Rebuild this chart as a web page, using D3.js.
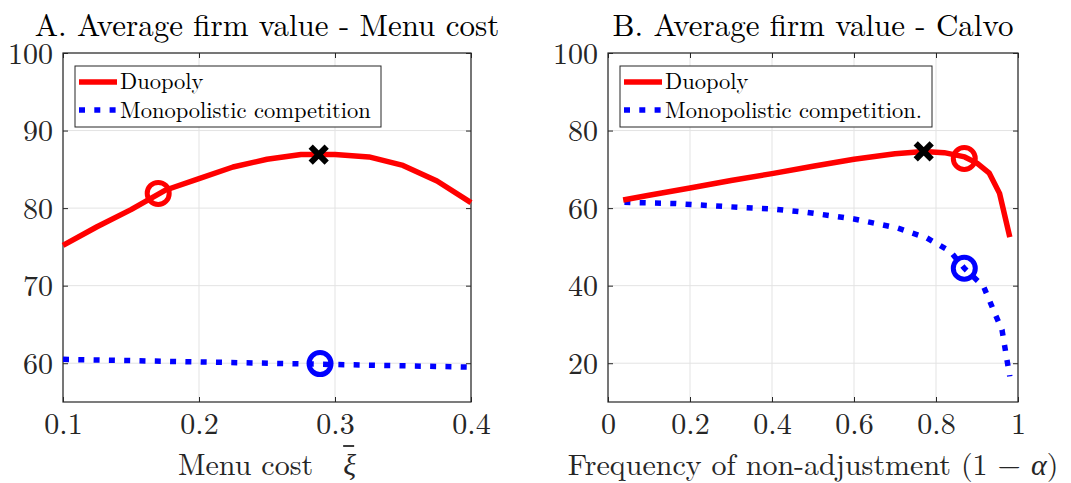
<!DOCTYPE html>
<html>
<head>
<meta charset="utf-8">
<script src="https://cdn.jsdelivr.net/npm/d3@7"></script>
<style>
  body { margin: 0; background: #fff; }
</style>
</head>
<body>
<div id="chart"></div>
<script>
// Panel A: menu cost
let menuX        = [0.1, 0.125, 0.15, 0.175, 0.2, 0.225, 0.25, 0.275, 0.3, 0.325, 0.35, 0.375, 0.4];
let menuDuopoly  = [75.2, 77.6, 79.8, 82.3, 83.8, 85.3, 86.3, 86.9, 86.9, 86.6, 85.5, 83.5, 80.7];
let menuMonoX    = [0.1, 0.4];
let menuMono     = [60.5, 59.5];
let menuXTicks   = [0.1, 0.2, 0.3, 0.4];
let menuYTicks   = [60, 70, 80, 90, 100];

// Panel B: Calvo
let calvoX       = [0.037, 0.1, 0.2, 0.3, 0.4, 0.5, 0.6, 0.7, 0.77, 0.82, 0.87, 0.9, 0.93, 0.955, 0.98];
let calvoDuopoly = [62.1, 63.3, 65.2, 67.1, 68.9, 70.8, 72.6, 74.0, 74.6, 74.3, 73.2, 71.6, 69.0, 63.8, 52.5];
let calvoMonoX   = [0.04, 0.16, 0.32, 0.4, 0.485, 0.6, 0.705, 0.778, 0.835, 0.869, 0.916, 0.945, 0.961, 0.973, 0.98];
let calvoMono    = [61.5, 61.2, 60.2, 59.8, 58.9, 57.2, 54.9, 52.3, 48.8, 44.5, 39.8, 32.5, 28.6, 20.9, 16.6];
let calvoXTicks  = [0, 0.2, 0.4, 0.6, 0.8, 1];
let calvoYTicks  = [20, 40, 60, 80, 100];

// markers: [x, y]
let menuCross    = [0.288, 86.9];
let menuCircleD  = [0.17, 81.9];
let menuCircleM  = [0.289, 59.95];
let calvoCross   = [0.77, 74.6];
let calvoCircleD = [0.869, 72.8];
let calvoCircleM = [0.869, 44.5];

let width = 1071, height = 483;
let font = "'Latin Modern Roman', 'CMU Serif', 'Liberation Serif', serif";
let svg = d3.select("#chart").append("svg")
  .attr("width", width).attr("height", height)
  .style("font-family", font);

let red = "#ff0000", blue = "#0000ff";

function panel(o) {
  let x = d3.scaleLinear().domain(o.xDomain).range([o.left, o.right]);
  let y = d3.scaleLinear().domain(o.yDomain).range([402, 53]);
  let g = svg.append("g");

  // grid
  g.append("g").selectAll("line").data(o.xTicks).enter().append("line")
    .attr("x1", d => x(d)).attr("x2", d => x(d)).attr("y1", 53).attr("y2", 402)
    .attr("stroke", "#e3e3e3").attr("stroke-width", 1);
  g.append("g").selectAll("line").data(o.yTicks).enter().append("line")
    .attr("x1", o.left).attr("x2", o.right).attr("y1", d => y(d)).attr("y2", d => y(d))
    .attr("stroke", "#e3e3e3").attr("stroke-width", 1);

  // axes
  let fmt = d => String(d);
  let ax = g.append("g").attr("transform", "translate(0,402)")
    .call(d3.axisBottom(x).tickValues(o.xTicks).tickFormat(fmt).tickSizeInner(-5).tickSizeOuter(0).tickPadding(11));
  let axT = g.append("g").attr("transform", "translate(0,53)")
    .call(d3.axisTop(x).tickValues(o.xTicks).tickFormat("").tickSizeInner(-5).tickSizeOuter(0));
  let ay = g.append("g").attr("transform", "translate(" + o.left + ",0)")
    .call(d3.axisLeft(y).tickValues(o.yTicks).tickFormat(fmt).tickSizeInner(-5).tickSizeOuter(0).tickPadding(10));
  let ayR = g.append("g").attr("transform", "translate(" + o.right + ",0)")
    .call(d3.axisRight(y).tickValues(o.yTicks).tickFormat("").tickSizeInner(-5).tickSizeOuter(0));
  [ax, axT, ay, ayR].forEach(a => {
    a.attr("font-family", null).attr("font-size", null);
    a.select(".domain").remove();
    a.selectAll("line").attr("stroke", "#262626");
    a.selectAll("text").style("font-size", "30px").attr("fill", "#262626")
      .style("font-family", font);
  });
  ay.selectAll("text").attr("dy", "0.34em");
  g.append("rect").attr("x", o.left).attr("y", 53)
    .attr("width", o.right - o.left).attr("height", 402 - 53)
    .attr("fill", "none").attr("stroke", "#262626").attr("stroke-width", 1.2);

  let line = d3.line().x(d => x(d[0])).y(d => y(d[1]));
  g.append("path").datum(d3.zip(o.monoX, o.mono)).attr("d", line)
    .attr("fill", "none").attr("stroke", blue).attr("stroke-width", 5.5)
    .attr("stroke-dasharray", "6,9.3");
  g.append("path").datum(d3.zip(o.duoX, o.duo)).attr("d", line)
    .attr("fill", "none").attr("stroke", red).attr("stroke-width", 5.5)
    .attr("stroke-linejoin", "round");

  // markers
  [[o.circleD, red], [o.circleM, blue]].forEach(c => {
    g.append("circle").attr("cx", x(c[0][0])).attr("cy", y(c[0][1])).attr("r", 11)
      .attr("fill", "none").attr("stroke", c[1]).attr("stroke-width", 5);
  });
  let cx = x(o.cross[0]), cy = y(o.cross[1]), s = 8;
  g.append("path")
    .attr("d", `M${cx - s},${cy - s}L${cx + s},${cy + s}M${cx - s},${cy + s}L${cx + s},${cy - s}`)
    .attr("stroke", "#000").attr("stroke-width", 6).attr("fill", "none");

  // title
  g.append("text").attr("x", (o.left + o.right) / 2).attr("y", 36)
    .attr("text-anchor", "middle").style("font-size", "31px").attr("fill", "#000")
    .text(o.title);

  // legend
  let lg = g.append("g");
  lg.append("rect").attr("x", o.left + 12).attr("y", 66)
    .attr("width", o.legendW).attr("height", 61)
    .attr("fill", "#fff").attr("stroke", "#262626").attr("stroke-width", 1);
  lg.append("line").attr("x1", o.left + 16).attr("x2", o.left + 54)
    .attr("y1", 82).attr("y2", 82).attr("stroke", red).attr("stroke-width", 5.5);
  lg.append("line").attr("x1", o.left + 16).attr("x2", o.left + 54)
    .attr("y1", 110).attr("y2", 110).attr("stroke", blue).attr("stroke-width", 5.5)
    .attr("stroke-dasharray", "6,9.3");
  lg.append("text").attr("x", o.left + 57).attr("y", 89).style("font-size", "22.5px")
    .attr("fill", "#000").text("Duopoly");
  lg.append("text").attr("x", o.left + 57).attr("y", 118).style("font-size", "22.5px")
    .attr("fill", "#000").text(o.monoLabel);

  // x label
  let xl = g.append("text").attr("x", (o.left + o.right) / 2).attr("y", 475)
    .attr("text-anchor", "middle").style("font-size", "30px").attr("fill", "#262626");
  o.xlabel(xl, g);
}

panel({
  left: 63, right: 471, xDomain: [0.1, 0.4], yDomain: [55, 100],
  xTicks: menuXTicks, yTicks: menuYTicks,
  duoX: menuX, duo: menuDuopoly, monoX: menuMonoX, mono: menuMono,
  cross: menuCross, circleD: menuCircleD, circleM: menuCircleM,
  title: "A. Average firm value - Menu cost",
  monoLabel: "Monopolistic competition", legendW: 306,
  xlabel: (t, g) => {
    t.append("tspan").text("Menu cost\u2002\u2002");
    t.append("tspan").attr("font-style", "italic").text("\u03BE");
    let r = t.node().getBBox();
    // bar over the xi
    let xr = r.x + r.width;
    g.append("line").attr("x1", xr - 13).attr("x2", xr - 2)
      .attr("y1", r.y + 5).attr("y2", r.y + 5)
      .attr("stroke", "#262626").attr("stroke-width", 1.8);
  }
});

panel({
  left: 608, right: 1018, xDomain: [0, 1], yDomain: [10, 100],
  xTicks: calvoXTicks, yTicks: calvoYTicks,
  duoX: calvoX, duo: calvoDuopoly, monoX: calvoMonoX, mono: calvoMono,
  cross: calvoCross, circleD: calvoCircleD, circleM: calvoCircleM,
  title: "B. Average firm value - Calvo",
  monoLabel: "Monopolistic competition.", legendW: 312,
  xlabel: t => {
    t.append("tspan").text("Frequency of non-adjustment (1 \u2212 ");
    t.append("tspan").attr("font-style", "italic").text("\u03B1");
    t.append("tspan").text(")");
  }
});
</script>
</body>
</html>
